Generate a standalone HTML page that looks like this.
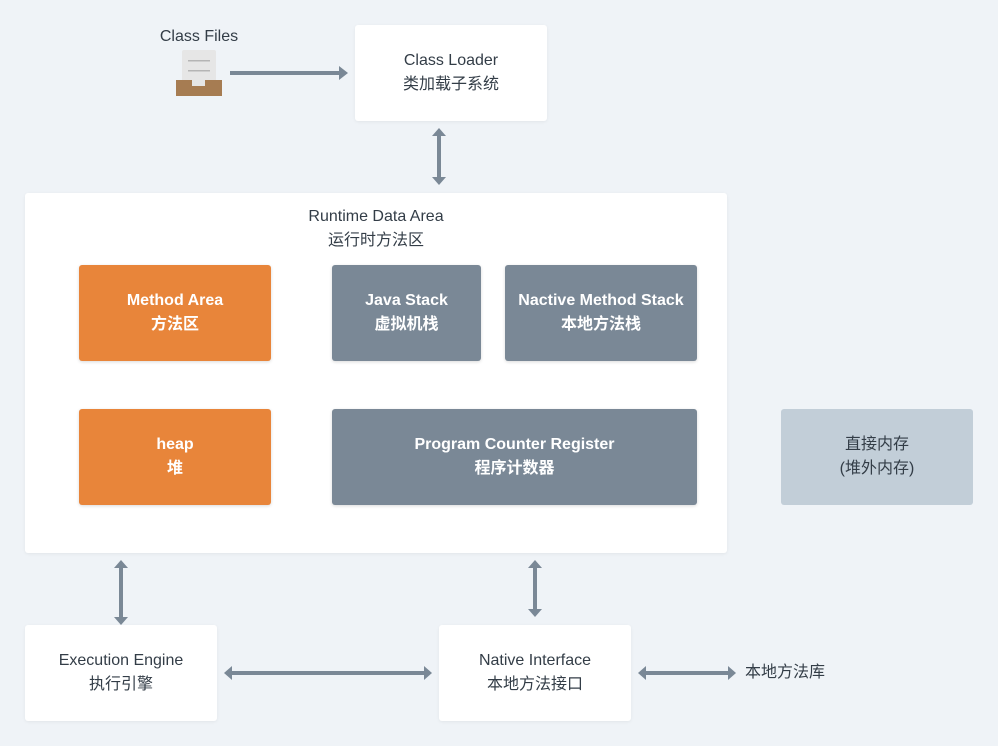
<!DOCTYPE html>
<html><head><meta charset="utf-8"><style>
body{margin:0;width:998px;height:746px;background:#eff3f7;position:relative;overflow:hidden;font-family:"Liberation Sans","Noto Sans CJK SC",sans-serif;}
.b{position:absolute;display:flex;flex-direction:column;align-items:center;justify-content:center;font-size:16px;line-height:24px;border-radius:3px;text-align:center;}
.w{background:#fff;color:#333d47;box-shadow:0 1px 3px rgba(0,0,0,0.06);}
.g{background:#7a8896;color:#fff;font-weight:bold;box-shadow:0 1px 3px rgba(0,0,0,0.15);}
.o{background:#e8853a;color:#fff;font-weight:bold;box-shadow:0 1px 3px rgba(0,0,0,0.15);}
.l{background:#c2ced8;color:#333d47;}
.t{position:absolute;font-size:16px;color:#333d47;line-height:24px;text-align:center;}
svg{position:absolute;left:0;top:0;}
</style></head><body>
<div class="b w" style="left:355px;top:25px;width:192px;height:96px">Class Loader<br>类加载子系统</div>
<div class="b w" style="left:25px;top:193px;width:702px;height:360px;justify-content:flex-start"></div>
<div class="t" style="left:276px;top:205px;width:200px">Runtime Data Area<br>运行时方法区</div>
<div class="b o" style="left:79px;top:265px;width:192px;height:96px">Method Area<br>方法区</div>
<div class="b g" style="left:332px;top:265px;width:149px;height:96px">Java Stack<br>虚拟机栈</div>
<div class="b g" style="left:505px;top:265px;width:192px;height:96px">Nactive Method Stack<br>本地方法栈</div>
<div class="b o" style="left:79px;top:409px;width:192px;height:96px">heap<br>堆</div>
<div class="b g" style="left:332px;top:409px;width:365px;height:96px">Program Counter Register<br>程序计数器</div>
<div class="b l" style="left:781px;top:409px;width:192px;height:96px">直接内存<br>(堆外内存)</div>
<div class="b w" style="left:25px;top:625px;width:192px;height:96px">Execution Engine<br>执行引擎</div>
<div class="b w" style="left:439px;top:625px;width:192px;height:96px">Native Interface<br>本地方法接口</div>
<div class="t" style="left:149px;top:25px;width:100px">Class Files</div>
<div class="t" style="left:745px;top:661px;text-align:left">本地方法库</div>
<svg width="998" height="746">
<rect x="182" y="50" width="34" height="36" rx="2" fill="#e6e6e6"/>
<rect x="188" y="60" width="22" height="1.5" fill="#b5b5b5"/>
<rect x="188" y="70" width="22" height="1.5" fill="#b5b5b5"/>
<rect x="176" y="80" width="46" height="16" fill="#a67c52"/>
<rect x="192" y="80" width="13" height="6" fill="#e6e6e6"/>
<g fill="#7a8896" stroke="#7a8896">
<line x1="230" y1="73" x2="340" y2="73" stroke-width="4"/>
<polygon points="339,66 348,73 339,80" stroke="none"/>
<line x1="439" y1="134" x2="439" y2="178" stroke-width="4"/>
<polygon points="432,136 439,128 446,136" stroke="none"/>
<polygon points="432,177 439,185 446,177" stroke="none"/>
<line x1="121" y1="566" x2="121" y2="618" stroke-width="4"/>
<polygon points="114,568 121,560 128,568" stroke="none"/>
<polygon points="114,617 121,625 128,617" stroke="none"/>
<line x1="535" y1="566" x2="535" y2="610" stroke-width="4"/>
<polygon points="528,568 535,560 542,568" stroke="none"/>
<polygon points="528,609 535,617 542,609" stroke="none"/>
<line x1="230" y1="673" x2="426" y2="673" stroke-width="4"/>
<polygon points="232,666 224,673 232,680" stroke="none"/>
<polygon points="424,666 432,673 424,680" stroke="none"/>
<line x1="644" y1="673" x2="730" y2="673" stroke-width="4"/>
<polygon points="646,666 638,673 646,680" stroke="none"/>
<polygon points="728,666 736,673 728,680" stroke="none"/>
</g>
</svg>
</body></html>
